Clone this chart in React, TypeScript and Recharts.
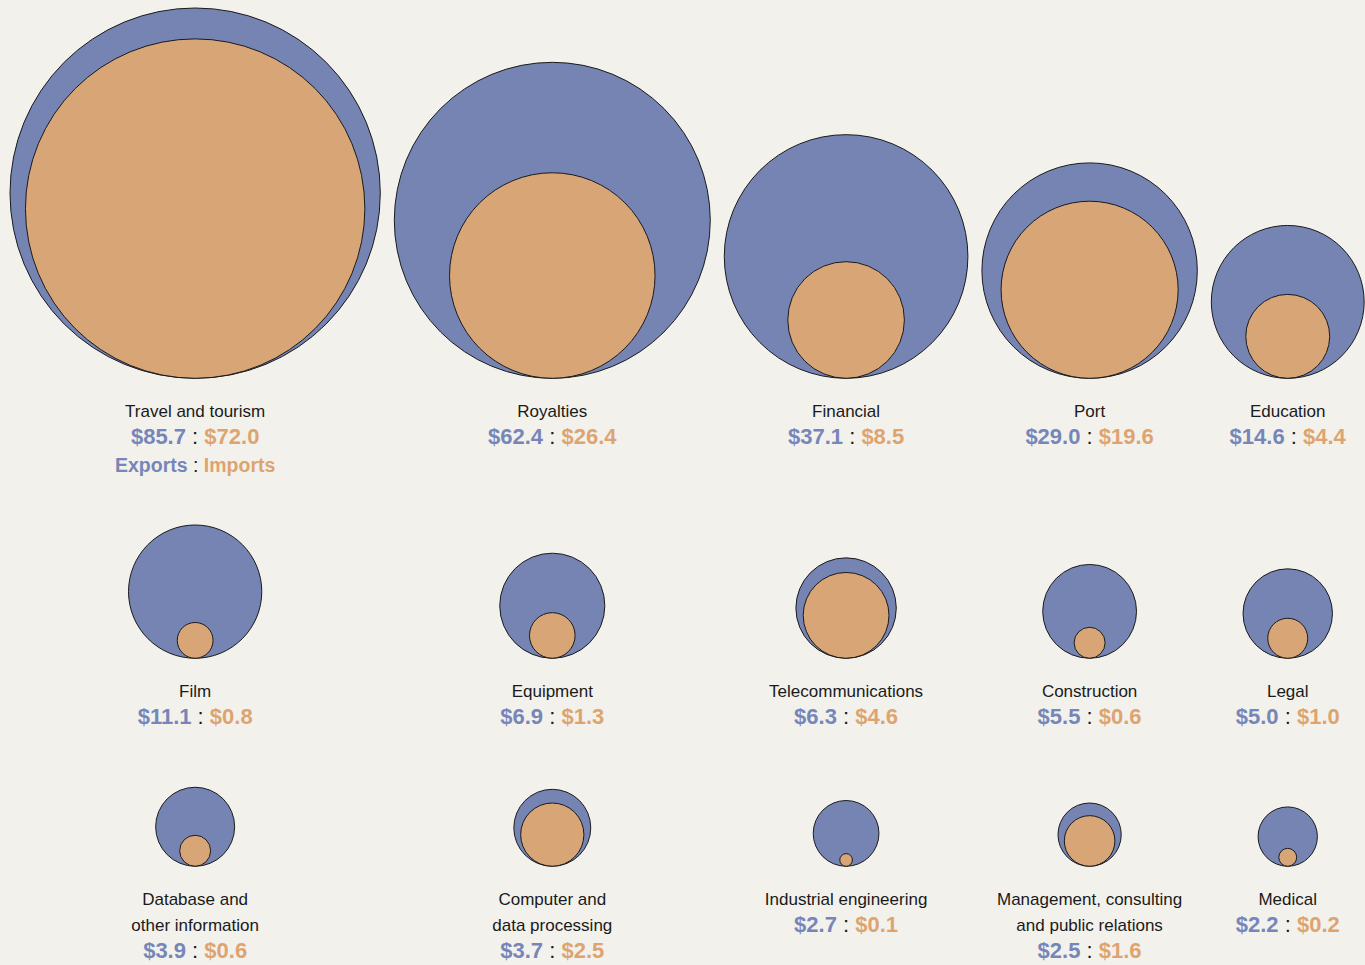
import React from "react";
import { Scatter, ScatterChart, XAxis, YAxis, ZAxis } from "recharts";

// $bn, exports vs imports of services
const categories = [
  "Travel and tourism",
  "Royalties",
  "Financial",
  "Port",
  "Education",
  "Film",
  "Equipment",
  "Telecommunications",
  "Construction",
  "Legal",
  "Database and\nother information",
  "Computer and\ndata processing",
  "Industrial engineering",
  "Management, consulting\nand public relations",
  "Medical",
];
const exportsBn = [85.7, 62.4, 37.1, 29.0, 14.6, 11.1, 6.9, 6.3, 5.5, 5.0, 3.9, 3.7, 2.7, 2.5, 2.2];
const importsBn = [72.0, 26.4, 8.5, 19.6, 4.4, 0.8, 1.3, 4.6, 0.6, 1.0, 0.6, 2.5, 0.1, 1.6, 0.2];
const legendLabels = ["Exports", "Imports"];

const BLUE = "#7584b3";
const ORANGE = "#d8a576";
const BLUE_TEXT = "#7786b8";
const ORANGE_TEXT = "#dea470";
const BG = "#f2f1ec";
const FONT = "'Liberation Sans', Arial, sans-serif";

const W = 1365;
const H = 965;
const COLS = 5;
const K = 20; // radius px per sqrt($bn), so area follows value
const LEFT = 10;
const GAP = 14;
const TOP = 8;
const LINE = 26.5;
const ROW_LINE = 17.7;
const ROW_PAD = 93.6;

const radius = (v: number) => K * Math.sqrt(v);
const fmt = (v: number) => `$${v.toFixed(1)}`;

// layout: each column as wide as its biggest circle, rows bottom-aligned
const colX: number[] = [];
{
  let x = LEFT;
  for (let c = 0; c < COLS; c++) {
    const w = Math.max(...exportsBn.filter((_, i) => i % COLS === c).map((v) => 2 * radius(v)));
    colX.push(x + w / 2);
    x += w + GAP;
  }
}
const rowBase: number[] = [];
{
  let y = TOP;
  const nRows = Math.ceil(categories.length / COLS);
  for (let r = 0; r < nRows; r++) {
    const idx = categories.map((_, i) => i).filter((i) => Math.floor(i / COLS) === r);
    const h = Math.max(...idx.map((i) => 2 * radius(exportsBn[i])));
    rowBase.push(y + h);
    const lines = Math.max(...idx.map((i) => (i === 0 ? 3 : 2)));
    y += h + lines * ROW_LINE + ROW_PAD;
  }
}

const points = (values: number[]) =>
  categories.map((name, i) => ({
    name,
    idx: i,
    x: colX[i % COLS],
    y: rowBase[Math.floor(i / COLS)],
    z: values[i],
    exp: exportsBn[i],
    imp: importsBn[i],
  }));

const exportData = points(exportsBn);
const importData = points(importsBn);

const radiusOf = (p: any) => (p.size != null ? Math.sqrt(p.size / Math.PI) : p.width / 2);

function ExportDot(p: any) {
  const r = radiusOf(p);
  return <circle cx={p.cx} cy={p.cy - r} r={r} fill={BLUE} stroke="#1a1a1a" strokeWidth={1} />;
}

function ImportDot(p: any) {
  const r = radiusOf(p);
  const d = p.payload;
  const lines: string[] = d.name.split("\n");
  const y0 = p.cy + 38.5;
  const vy = y0 + (lines.length - 1) * LINE + 27;
  return (
    <g>
      <circle cx={p.cx} cy={p.cy - r} r={r} fill={ORANGE} stroke="#1a1a1a" strokeWidth={1} />
      <text textAnchor="middle" fontFamily={FONT} fontSize={17} fill="#1a1a1a">
        {lines.map((l, k) => (
          <tspan key={k} x={p.cx} y={y0 + k * LINE}>
            {l}
          </tspan>
        ))}
      </text>
      <text x={p.cx} y={vy} textAnchor="middle" fontFamily={FONT} fontSize={22}>
        <tspan fill={BLUE_TEXT} fontWeight="bold">{fmt(d.exp)}</tspan>
        <tspan fill="#1a1a1a"> : </tspan>
        <tspan fill={ORANGE_TEXT} fontWeight="bold">{fmt(d.imp)}</tspan>
      </text>
      {d.idx === 0 && (
        <text x={p.cx} y={vy + 28} textAnchor="middle" fontFamily={FONT} fontSize={19.5}>
          <tspan fill={BLUE_TEXT} fontWeight="bold">{legendLabels[0]}</tspan>
          <tspan fill="#1a1a1a"> : </tspan>
          <tspan fill={ORANGE_TEXT} fontWeight="bold">{legendLabels[1]}</tspan>
        </text>
      )}
    </g>
  );
}

export default function App() {
  return (
    <div style={{ width: W, height: H, background: BG }}>
      <style>{`body{margin:0;background:${BG};}`}</style>
      <ScatterChart width={W} height={H} margin={{ top: 0, right: 0, bottom: 0, left: 0 }}>
        <XAxis type="number" dataKey="x" domain={[0, W]} allowDataOverflow hide />
        <YAxis type="number" dataKey="y" domain={[0, H]} reversed allowDataOverflow hide />
        <ZAxis type="number" dataKey="z" domain={[0, 100]} range={[0, Math.PI * K * K * 100]} />
        <Scatter data={exportData} shape={ExportDot} isAnimationActive={false} />
        <Scatter data={importData} shape={ImportDot} isAnimationActive={false} />
      </ScatterChart>
    </div>
  );
}
